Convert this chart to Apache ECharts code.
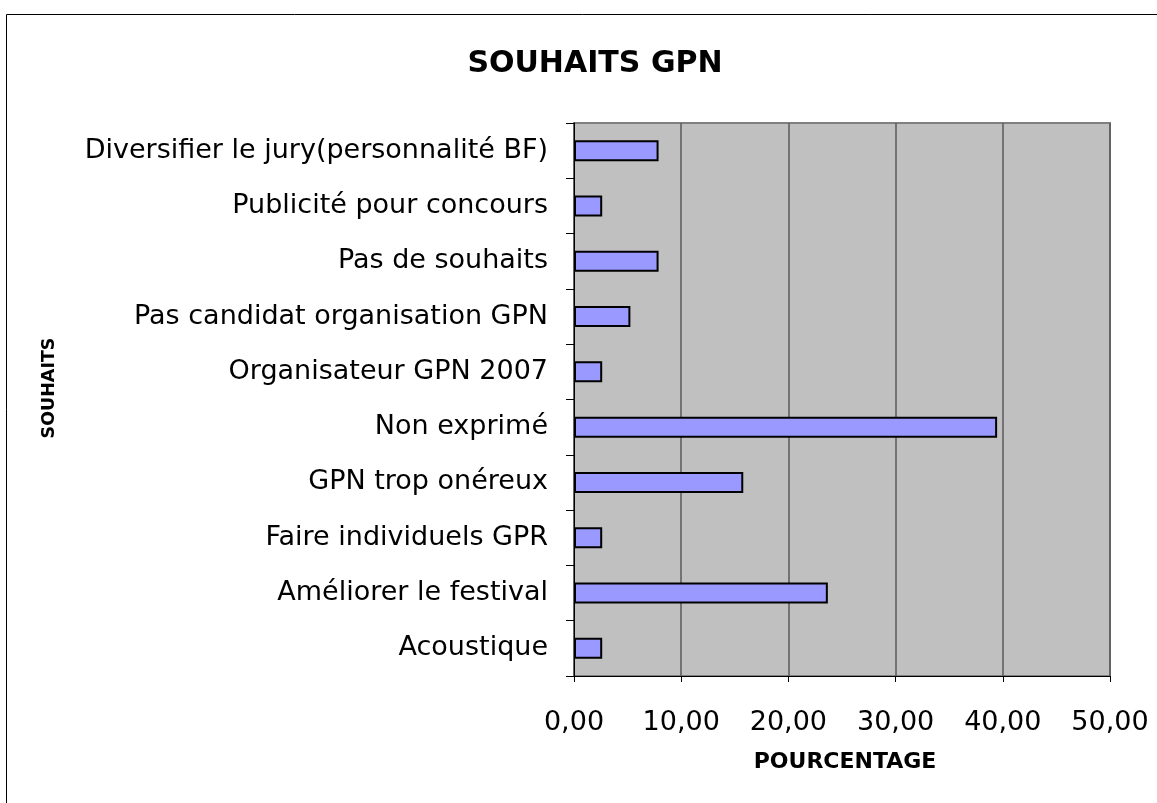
<!DOCTYPE html>
<html>
<head>
<meta charset="utf-8">
<script src="https://cdn.jsdelivr.net/npm/echarts@6/dist/echarts.min.js"></script>
<style>
  html, body { margin: 0; padding: 0; background: #fff; }
  #chart { width: 1157px; height: 803px; }
</style>
</head>
<body>
<div id="chart"></div>
<script>
// categories top to bottom
var categories = [
    'Diversifier le jury(personnalité BF)',
    'Publicité pour concours',
    'Pas de souhaits',
    'Pas candidat organisation GPN',
    'Organisateur GPN 2007',
    'Non exprimé',
    'GPN trop onéreux',
    'Faire individuels GPR',
    'Améliorer le festival',
    'Acoustique'
];
var values = [7.89, 2.63, 7.89, 5.26, 2.63, 39.47, 15.79, 2.63, 23.68, 2.63];
var xTicks = [0, 10, 20, 30, 40, 50];

var chart = echarts.init(document.getElementById('chart'));
var font = '"DejaVu Sans", Verdana, sans-serif';

var option = {
    backgroundColor: '#fff',
    animation: false,
    title: {
        text: 'SOUHAITS GPN',
        left: 590,
        top: 44,
        textAlign: 'center',
        textStyle: { fontFamily: font, fontSize: 30, fontWeight: 'bold', color: '#000' }
    },
    graphic: [
        {
            type: 'rect', left: 4, top: 12, silent: true,
            shape: { width: 1170, height: 820 },
            style: { fill: 'none', stroke: '#000', lineWidth: 1 }
        },
        {
            type: 'text', x: 49, y: 388, rotation: Math.PI / 2,
            style: {
                text: 'SOUHAITS', font: 'bold 17.5px ' + font, fill: '#000',
                textAlign: 'center', textVerticalAlign: 'middle'
            }
        },
        {
            type: 'text', x: 845, y: 762,
            style: {
                text: 'POURCENTAGE', font: 'bold 22px ' + font, fill: '#000',
                textAlign: 'center', textVerticalAlign: 'middle'
            }
        }
    ],
    grid: {
        left: 574, right: 1157 - 1110, top: 123, height: 553,
        show: true, backgroundColor: '#c0c0c0', borderColor: '#808080', borderWidth: 2
    },
    xAxis: {
        type: 'value',
        min: xTicks[0],
        max: xTicks[xTicks.length - 1],
        interval: 10,
        axisLine: { show: true, lineStyle: { color: '#000', width: 1 } },
        axisTick: { show: true, length: 6, lineStyle: { color: '#000' } },
        splitLine: { show: true, lineStyle: { color: '#5a5a5a', width: 1.5 } },
        axisLabel: {
            margin: 33, color: '#000', fontFamily: font, fontSize: 27,
            formatter: function (v) { return v.toFixed(2).replace('.', ','); }
        }
    },
    yAxis: {
        type: 'category',
        data: categories,
        inverse: true,
        axisLine: { show: true, lineStyle: { color: '#000', width: 1 } },
        axisTick: { show: true, length: 8, lineStyle: { color: '#000' } },
        axisLabel: { margin: 26, color: '#000', fontFamily: font, fontSize: 27 }
    },
    series: [{
        type: 'bar',
        data: values,
        barWidth: 21,
        itemStyle: { color: '#9999ff', borderColor: '#000', borderWidth: 2 }
    }]
};
chart.setOption(option);
</script>
</body>
</html>
